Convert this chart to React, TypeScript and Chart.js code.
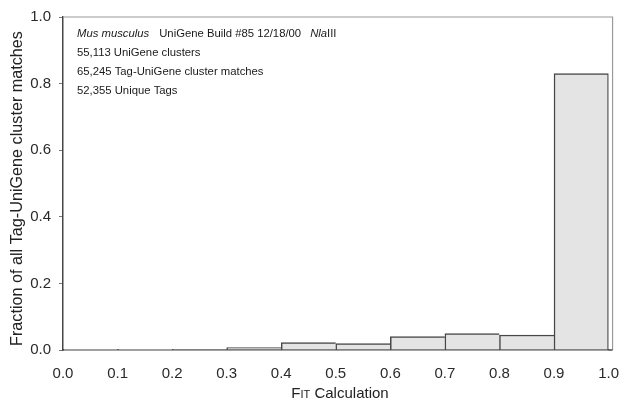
import React, { useEffect, useRef } from "react";
import { Chart, registerables } from "chart.js";

Chart.register(...registerables);

// ---- data ----
const binLabels = ["0.0-0.1", "0.1-0.2", "0.2-0.3", "0.3-0.4", "0.4-0.5", "0.5-0.6", "0.6-0.7", "0.7-0.8", "0.8-0.9", "0.9-1.0"];
const binCenters = [0.05, 0.15, 0.25, 0.35, 0.45, 0.55, 0.65, 0.75, 0.85, 0.95];
const fractions = [0.0005, 0.001, 0.002, 0.007, 0.022, 0.019, 0.04, 0.049, 0.045, 0.83];
const xTickValues = [0, 0.1, 0.2, 0.3, 0.4, 0.5, 0.6, 0.7, 0.8, 0.9, 1.0];
const yTickValues = [0, 0.2, 0.4, 0.6, 0.8, 1.0];
const infoLine1 = [
  { text: "Mus musculus", italic: true, gapAfter: 10 },
  { text: "UniGene Build #85 12/18/00", italic: false, gapAfter: 9 },
  { text: "Nla", italic: true, gapAfter: 0 },
  { text: "III", italic: false, gapAfter: 0 },
];
const infoLines = ["55,113 UniGene clusters", "65,245 Tag-UniGene cluster matches", "52,355 Unique Tags"];
const yTitle = "Fraction of all Tag-UniGene cluster matches";

const FONT = '"Liberation Sans", Arial, Helvetica, sans-serif';
const INFO_SIZE = 11.3;

const decorPlugin = {
  id: "decor",
  afterDraw(chart: any) {
    const { ctx, chartArea } = chart;
    const { left, right, top, bottom } = chartArea;
    ctx.save();
    // frame (top + right), extended a little past 1.0
    ctx.strokeStyle = "#9a9a9a";
    ctx.lineWidth = 1.2;
    ctx.beginPath();
    ctx.moveTo(left, top);
    ctx.lineTo(right + 4, top);
    ctx.lineTo(right + 4, bottom);
    ctx.stroke();
    ctx.strokeStyle = "#474747";
    ctx.lineWidth = 1.5;
    ctx.beginPath();
    ctx.moveTo(right, bottom);
    ctx.lineTo(right + 4, bottom);
    ctx.stroke();

    // info text
    ctx.fillStyle = "#1a1a1a";
    ctx.textBaseline = "middle";
    ctx.textAlign = "left";
    let x = left + 14;
    const y0 = top + 17;
    for (const seg of infoLine1) {
      ctx.font = `${seg.italic ? "italic " : ""}${INFO_SIZE}px ${FONT}`;
      ctx.fillText(seg.text, x, y0);
      x += ctx.measureText(seg.text).width + seg.gapAfter;
    }
    ctx.font = `${INFO_SIZE}px ${FONT}`;
    infoLines.forEach((t, i) => ctx.fillText(t, left + 14, y0 + 19 * (i + 1)));

    // y title
    ctx.save();
    ctx.translate(18, (top + bottom) / 2 + 5);
    ctx.rotate(-Math.PI / 2);
    ctx.textAlign = "center";
    ctx.font = `16.2px ${FONT}`;
    ctx.fillStyle = "#222";
    ctx.fillText(yTitle, 0, 0);
    ctx.restore();

    // x title with small caps "FIT"
    const parts = [
      { t: "F", f: `15px ${FONT}` },
      { t: "IT", f: `11px ${FONT}` },
      { t: " Calculation", f: `15px ${FONT}` },
    ];
    let total = 0;
    for (const p of parts) {
      ctx.font = p.f;
      total += ctx.measureText(p.t).width;
    }
    let xx = 340 - total / 2;
    ctx.fillStyle = "#222";
    ctx.textBaseline = "alphabetic";
    for (const p of parts) {
      ctx.font = p.f;
      ctx.fillText(p.t, xx, 398);
      xx += ctx.measureText(p.t).width;
    }
    ctx.restore();
  },
};

export default function App() {
  const ref = useRef<HTMLCanvasElement | null>(null);
  useEffect(() => {
    document.body.style.margin = "0";
    const canvas = ref.current;
    if (!canvas) return;
    const last = binCenters.length - 1;
    const chart = new Chart(canvas, {
      type: "bar",
      data: {
        labels: binLabels,
        datasets: [
          {
            data: binCenters.map((c, i) => ({ x: c, y: fractions[i] })),
            backgroundColor: "#e4e4e4",
            borderColor: "#474747",
            borderWidth: (c: any) => ({ top: 1.5, left: 1.5, right: c.dataIndex === last ? 1.5 : 0, bottom: 0 }),
            borderSkipped: false,
            barPercentage: 1,
            categoryPercentage: 1,
          },
        ],
      },
      options: {
        animation: false,
        responsive: false,
        maintainAspectRatio: false,
        layout: { padding: { top: 16, right: 0, left: 0, bottom: 0 } },
        plugins: { legend: { display: false }, tooltip: { enabled: false } },
        scales: {
          x: {
            type: "linear",
            min: 0,
            max: 1,
            offset: false,
            afterBuildTicks: (s: any) => {
              s.ticks = xTickValues.map((v) => ({ value: v }));
            },
            afterFit: (s: any) => {
              s.height = 50;
            },
            grid: { display: true, drawOnChartArea: false, drawTicks: true, tickLength: 15, color: "rgba(0,0,0,0)", offset: false },
            border: { display: true, color: "#474747", width: 1.5 },
            ticks: {
              color: "#2a2a2a",
              font: { family: FONT, size: 15 },
              padding: 0,
              maxRotation: 0,
              autoSkip: false,
              callback: (v: any) => Number(v).toFixed(1),
            },
          },
          y: {
            min: 0,
            max: 1,
            afterBuildTicks: (s: any) => {
              s.ticks = yTickValues.map((v) => ({ value: v }));
            },
            afterFit: (s: any) => {
              s.width = 63;
            },
            grid: { display: true, drawOnChartArea: false, drawTicks: true, tickLength: 4, color: "#777" },
            border: { display: true, color: "#474747", width: 1.5 },
            ticks: {
              color: "#2a2a2a",
              font: { family: FONT, size: 15 },
              padding: 8,
              callback: (v: any) => Number(v).toFixed(1),
            },
          },
        },
      },
      plugins: [decorPlugin],
    } as any);
    return () => chart.destroy();
  }, []);
  return (
    <div style={{ width: 619, height: 400, position: "relative" }}>
      <canvas ref={ref} width={619} height={400} style={{ width: 619, height: 400, display: "block" }} />
    </div>
  );
}
